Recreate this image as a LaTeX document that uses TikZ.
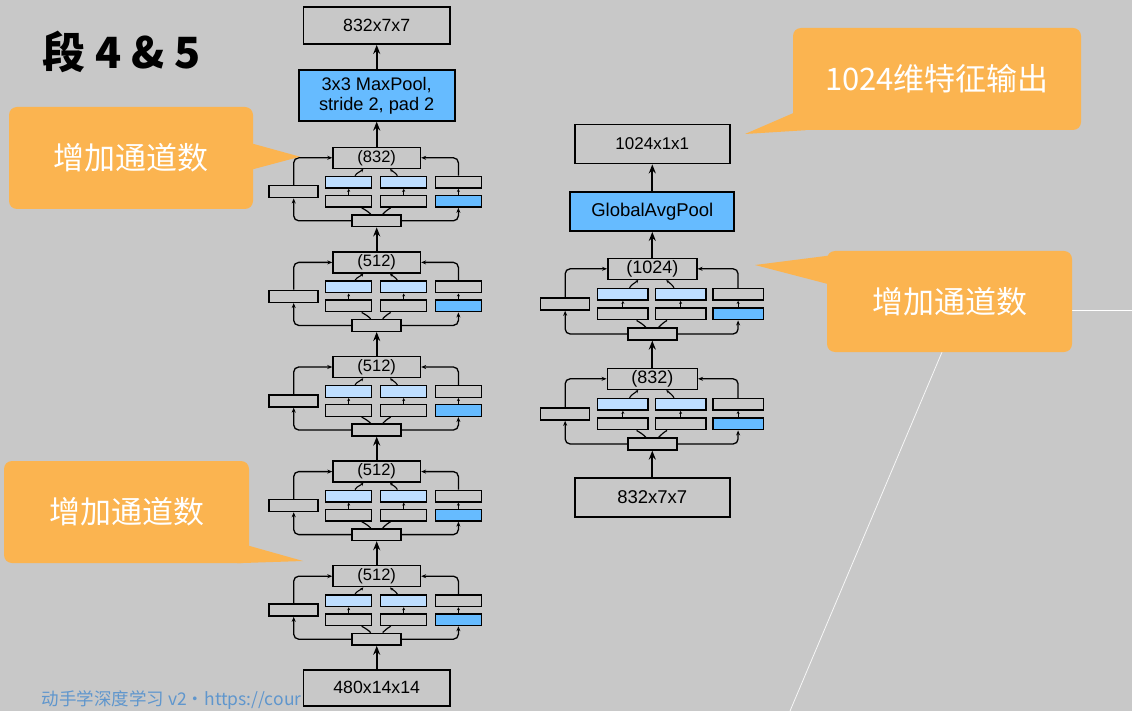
\documentclass[tikz,border=0pt]{standalone}
\usepackage{fontspec}
\setmainfont{Liberation Sans}
\newfontfamily\cjk{Noto Sans CJK SC}
\usetikzlibrary{arrows.meta}
\definecolor{bg}{RGB}{200,200,200}
\definecolor{lblue}{RGB}{190,222,255}
\definecolor{dblue}{RGB}{102,187,255}
\definecolor{callout}{RGB}{251,180,80}
\definecolor{foot}{RGB}{95,150,205}
\tikzset{
  box/.style={draw=black, line width=1.8pt, inner sep=0pt, fill=bg, font=\fontsize{17.7}{20}\selectfont},
  sbox/.style={draw=black, line width=1.5pt, inner sep=0pt, fill=bg, minimum height=11.6pt},
  flow/.style={line width=1.8pt, -{Stealth[length=9pt,width=7pt]}},
  sflow/.style={line width=1.3pt, -{Stealth[length=5pt,width=4pt]}},
  tinyflow/.style={line width=1.1pt, -{Stealth[length=3pt,width=3pt]}},
  curv/.style={line width=1.2pt},
  bubble/.style={fill=callout, rounded corners=8pt, inner sep=0pt, text=white, font=\cjk\fontsize{31}{36}\selectfont},
}
% #1 name, #2 cx, #3 top y, #4 label, #5 xs, #6 ys, #7 row width, #8 top width, #9 font size
\newcommand\iblock[9]{%
  \pgfmathsetmacro\ia{6*#5}%
  \pgfmathsetmacro\ib{13*#5}%
  \pgfmathsetmacro\ic{6.3*#5}%
  \pgfmathsetmacro\id{13.4*#5}%
  \begin{scope}[shift={(#2,-#3)}]
    \node[sbox, minimum width=#8, minimum height=21pt, font=\fontsize{#9}{#9}\selectfont] (#1t) at (0,-10.5) {#4};
    \node[sbox, fill=lblue, minimum width=#7] (#1aL) at (-28*#5,-35*#6) {};
    \node[sbox, fill=lblue, minimum width=#7] (#1aM) at (27*#5,-35*#6) {};
    \node[sbox, minimum width=#7] (#1aR) at (81.7*#5,-35*#6) {};
    \node[sbox, minimum width=#7] (#1cL) at (-28*#5,-54*#6) {};
    \node[sbox, minimum width=#7] (#1cM) at (27*#5,-54*#6) {};
    \node[sbox, fill=dblue, minimum width=#7] (#1cR) at (81.7*#5,-54*#6) {};
    \node[sbox, minimum width=49pt, minimum height=12pt] (#1l) at (-83*#5,-44.4*#6) {};
    \node[sbox, minimum width=49pt, minimum height=11.7pt] (#1b) at (0,-73.5*#6) {};
  \end{scope}
  \draw[sflow, rounded corners=5pt] (#1b.west) -| (#1l.south);
  \draw[sflow, rounded corners=5pt] (#1l.north) |- (#1t.west);
  \draw[sflow, rounded corners=5pt] (#1b.east) -| (#1cR.south);
  \draw[sflow, rounded corners=5pt] (#1aR.north) |- (#1t.east);
  \draw[tinyflow] (#1cL.north) -- (#1aL.south);
  \draw[tinyflow] (#1cM.north) -- (#1aM.south);
  \draw[tinyflow] (#1cR.north) -- (#1aR.south);
  \draw[curv] ([xshift=-\ia pt]#1b.north) to[out=135,in=-30] ([xshift=\ib pt]#1cL.south);
  \draw[curv] ([xshift=\ia pt]#1b.north) to[out=45,in=-150] ([xshift=-\ib pt]#1cM.south);
  \draw[tinyflow] ([xshift=\ic pt]#1aL.north) to[out=60,in=-135] ([xshift=-\id pt]#1t.south);
  \draw[tinyflow] ([xshift=-\ic pt]#1aM.north) to[out=120,in=-45] ([xshift=\id pt]#1t.south);
}
\begin{document}
\begin{tikzpicture}[x=1pt,y=1pt]
\fill[bg] (0,0) rectangle (1132,-711);
\useasboundingbox (0,0) rectangle (1132,-711);

% decorative white lines
\draw[white, line width=0.8pt] (1060,-310) -- (1132,-310);
\draw[white!85!bg, line width=0.8pt] (945,-345) -- (790,-711);

% title
\node[anchor=base west, inner sep=0pt, font=\cjk\bfseries\fontsize{43}{50}\selectfont] (title) at (42,-69) {段 4 \& 5};

% footer
\node[anchor=base west, inner sep=0pt, text=foot, font=\cjk\fontsize{17.5}{20}\selectfont] (foot) at (41.5,-705.5) {动手学深度学习 v2・\underline{https://cour}};

% left column
\node[box, minimum width=146.6pt, minimum height=37.3pt] (out1) at (376.7,-25.35) {832x7x7};
\node[box, fill=dblue, minimum width=156pt, minimum height=50.4pt, align=center, font=\fontsize{18.2}{20}\selectfont] (mp) at (376.7,-95.5) {3x3 MaxPool,\\stride 2, pad 2};
\iblock{A1}{376.7}{147.3}{(832)}{1}{1}{46pt}{87.4pt}{16.5}
\iblock{A2}{376.7}{251.9}{(512)}{1}{1}{46pt}{87.4pt}{16.5}
\iblock{A3}{376.7}{356.5}{(512)}{1}{1}{46pt}{87.4pt}{16.5}
\iblock{A4}{376.7}{461.1}{(512)}{1}{1}{46pt}{87.4pt}{16.5}
\iblock{A5}{376.7}{565.7}{(512)}{1}{1}{46pt}{87.4pt}{16.5}
\node[box, minimum width=146.6pt, minimum height=35.7pt] (in1) at (376.7,-687.85) {480x14x14};
\draw[flow] (in1.north) -- (A5b.south);
\draw[flow] (A5t.north) -- (A4b.south);
\draw[flow] (A4t.north) -- (A3b.south);
\draw[flow] (A3t.north) -- (A2b.south);
\draw[flow] (A2t.north) -- (A1b.south);
\draw[flow] (A1t.north) -- (mp.south);
\draw[flow] (mp.north) -- (out1.south);

% right column
\node[box, minimum width=155pt, minimum height=39pt, font=\fontsize{17}{20}\selectfont] (out2) at (652.3,-144) {1024x1x1};
\node[box, fill=dblue, minimum width=164pt, minimum height=39pt, font=\fontsize{18.5}{20}\selectfont] (gap) at (652.3,-211.5) {GlobalAvgPool};
\iblock{B1}{652.3}{258.3}{(1024)}{1.05}{1.03}{50.6pt}{89pt}{18}
\iblock{B2}{652.3}{368.3}{(832)}{1.05}{1.03}{50.6pt}{90pt}{18}
\node[box, minimum width=155pt, minimum height=39pt, font=\fontsize{18.5}{20}\selectfont] (in2) at (652.3,-497.2) {832x7x7};
\draw[flow] (in2.north) -- (B2b.south);
\draw[flow] (B2t.north) -- (B1b.south);
\draw[flow] (B1t.north) -- (gap.south);
\draw[flow] (gap.north) -- (out2.south);

% callouts
\node[bubble, minimum width=244pt, minimum height=102pt] (c1) at (131,-158) {增加通道数};
\coordinate (tip1) at (300,-156.7);
\fill[callout] ([xshift=-3pt,yshift=15pt]c1.east) -- (tip1) -- ([xshift=-3pt,yshift=-12pt]c1.east) -- cycle;

\node[bubble, minimum width=245pt, minimum height=102pt] (c2) at (126.5,-512) {增加通道数};
\coordinate (tip2) at (303,-561);
\fill[callout] ([xshift=-3pt,yshift=-33pt]c2.east) -- (tip2) -- ([xshift=-12pt]c2.south east) -- cycle;

\node[bubble, minimum width=245pt, minimum height=101pt] (c3) at (949.5,-301.5) {增加通道数};
\coordinate (tip3) at (755,-265);
\fill[callout] ([xshift=3pt,yshift=46pt]c3.west) -- (tip3) -- ([xshift=3pt,yshift=17pt]c3.west) -- cycle;

\node[bubble, minimum width=288pt, minimum height=102pt] (c4) at (937,-79) {1024维特征输出};
\coordinate (tip4) at (745,-134);
\fill[callout] ([xshift=3pt,yshift=-33pt]c4.west) -- (tip4) -- ([xshift=13pt]c4.south west) -- cycle;
\end{tikzpicture}
\end{document}
